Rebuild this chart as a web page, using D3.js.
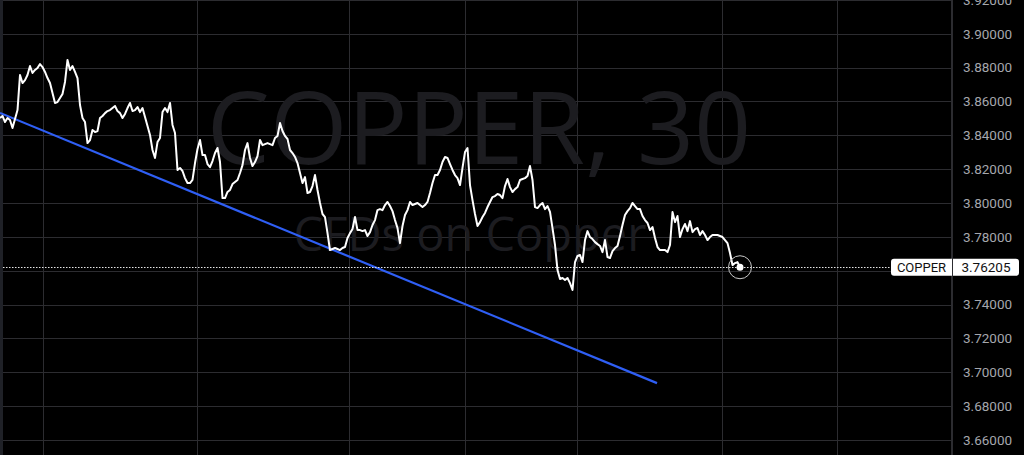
<!DOCTYPE html>
<html><head><meta charset="utf-8">
<script src="https://cdn.jsdelivr.net/npm/d3@7"></script>
<style>
html,body{margin:0;padding:0;background:#000;}
svg{display:block;}
</style></head>
<body>
<svg id="chart" width="1024" height="455"></svg>
<script>
// ---- data ----
const symbol = "COPPER";
const interval = "30";
const subtitle = "CFDs on Copper";
const lastPrice = 3.76205;
// close prices, one per bar
const prices = [
3.8502,3.8514,3.8478,3.8502,3.8490,3.8443,3.8496,3.8549,3.8756,3.8709,
3.8726,3.8756,3.8809,3.8768,3.8786,3.8797,3.8821,3.8803,3.8774,3.8738,
3.8709,3.8650,3.8591,3.8596,3.8620,3.8644,3.8715,3.8845,3.8786,3.8809,
3.8774,3.8738,3.8579,3.8502,3.8478,3.8354,3.8372,3.8431,3.8419,3.8425,
3.8502,3.8514,3.8531,3.8543,3.8549,3.8561,3.8573,3.8543,3.8531,3.8502,
3.8526,3.8561,3.8591,3.8543,3.8549,3.8567,3.8537,3.8561,3.8508,3.8455,
3.8402,3.8313,3.8266,3.8360,3.8384,3.8537,3.8561,3.8537,3.8591,3.8461,
3.8413,3.8195,3.8207,3.8189,3.8147,3.8118,3.8118,3.8136,3.8236,3.8319,
3.8372,3.8283,3.8283,3.8230,3.8212,3.8248,3.8295,3.8325,3.8242,3.8029,
3.8029,3.8065,3.8077,3.8112,3.8124,3.8136,3.8177,3.8224,3.8313,3.8354,
3.8266,3.8218,3.8242,3.8277,3.8372,3.8342,3.8348,3.8354,3.8348,3.8342,
3.8384,3.8396,3.8472,3.8425,3.8396,3.8378,3.8313,3.8295,3.8272,3.8236,
3.8177,3.8118,3.8153,3.8059,3.8065,3.8100,3.8165,3.8077,3.8000,3.7935,
3.7917,3.7822,3.7722,3.7728,3.7734,3.7728,3.7722,3.7734,3.7740,3.7793,
3.7822,3.7846,3.7917,3.7840,3.7840,3.7834,3.7840,3.7805,3.7828,3.7870,
3.7899,3.7958,3.7964,3.7958,3.7988,3.8006,3.7982,3.7952,3.7899,3.7852,
3.7763,3.7864,3.7929,3.7958,3.8006,3.7988,3.7994,3.8000,3.7988,3.7976,
3.7988,3.8006,3.8059,3.8118,3.8165,3.8165,3.8195,3.8242,3.8272,3.8266,
3.8230,3.8195,3.8165,3.8147,3.8106,3.8207,3.8301,3.8325,3.8106,3.8017,
3.7935,3.7864,3.7887,3.7917,3.7941,3.7976,3.8006,3.8035,3.8041,3.8053,
3.8047,3.8029,3.8100,3.8142,3.8094,3.8065,3.8082,3.8094,3.8136,3.8142,
3.8147,3.8159,3.8218,3.8136,3.7976,3.7970,3.7988,3.8000,3.7964,3.7982,
3.7947,3.7852,3.7752,3.7604,3.7551,3.7557,3.7545,3.7557,3.7527,3.7486,
3.7651,3.7687,3.7693,3.7651,3.7781,3.7834,3.7799,3.7787,3.7769,3.7757,
3.7746,3.7710,3.7781,3.7681,3.7675,3.7716,3.7734,3.7746,3.7805,3.7870,
3.7929,3.7952,3.7970,3.8000,3.7982,3.7964,3.7964,3.7923,3.7899,3.7882,
3.7840,3.7858,3.7793,3.7740,3.7722,3.7722,3.7722,3.7710,3.7752,3.7947,
3.7887,3.7923,3.7799,3.7846,3.7876,3.7834,3.7893,3.7828,3.7846,3.7852,
3.7811,3.7834,3.7811,3.7781,3.7799,3.7811,3.7811,3.7811,3.7805,3.7799,
3.7781,3.7763,3.7704,3.7633,3.7645,3.7651,3.76205
];
// trend line: [bar, price]
const trendBars = [0, 262.8];
const trendPrices = [3.8532, 3.6936];
// vertical grid (session boundaries, in bars)
const gridBars = [17.2, 78.8, 139.6, 186, 230.8, 288.8, 334.8, 380.4];
// price axis ticks
const priceTicks = [3.66,3.68,3.70,3.72,3.74,3.76,3.78,3.80,3.82,3.84,3.86,3.88,3.90,3.92];

// ---- layout ----
const W = 1024, H = 455;
const plotRight = 953;
const svg = d3.select("#chart");

const x = d3.scaleLinear().domain([0, 381.2]).range([0, plotRight]);
const y = d3.scaleLinear().domain([3.66, 3.92]).range([440.0, -0.15]);

svg.append("rect").attr("width", W).attr("height", H).attr("fill", "#000");

// left strip
svg.append("rect").attr("x", 0).attr("y", 0).attr("width", 3).attr("height", H).attr("fill", "#1f2127");

// grid
const grid = svg.append("g");
grid.selectAll("line.h").data(priceTicks).join("line")
  .attr("x1", 3).attr("x2", plotRight)
  .attr("y1", d => Math.round(y(d)) + 0.5).attr("y2", d => Math.round(y(d)) + 0.5)
  .attr("stroke", "#2c2c30").attr("stroke-width", 1);
grid.selectAll("line.v").data(gridBars).join("line")
  .attr("x1", d => Math.round(x(d)) + 0.5).attr("x2", d => Math.round(x(d)) + 0.5)
  .attr("y1", 0).attr("y2", H)
  .attr("stroke", "#2c2c30").attr("stroke-width", 1);

// watermark
svg.append("text").attr("x", 479).attr("y", 164)
  .attr("text-anchor", "middle").attr("font-family", "Open Sans, sans-serif")
  .attr("font-size", 100).attr("fill", "#1c1c20")
  .text(symbol + ", " + interval);
svg.append("text").attr("x", 470).attr("y", 251)
  .attr("text-anchor", "middle").attr("font-family", "Open Sans, sans-serif")
  .attr("font-size", 47).attr("fill", "#1c1c20")
  .text(subtitle);

// trend line
svg.append("line")
  .attr("x1", x(trendBars[0])).attr("y1", y(trendPrices[0]))
  .attr("x2", x(trendBars[1])).attr("y2", y(trendPrices[1]))
  .attr("stroke", "#2f5ff5").attr("stroke-width", 2.2);

// last price dotted line
svg.append("line")
  .attr("x1", 3).attr("x2", 891)
  .attr("y1", Math.round(y(lastPrice)) + 0.5).attr("y2", Math.round(y(lastPrice)) + 0.5)
  .attr("stroke", "#e6e6e6").attr("stroke-width", 1).attr("stroke-dasharray", "1.5,1.5");

// price line
const line = d3.line().x((d, i) => x(i)).y(d => y(d)).curve(d3.curveLinear);
svg.append("path").datum(prices)
  .attr("d", line).attr("fill", "none")
  .attr("stroke", "#ffffff").attr("stroke-width", 2).attr("stroke-linejoin", "round");

// last point marker
const lx = x(prices.length - 1), ly = y(prices[prices.length - 1]);
svg.append("circle").attr("cx", lx).attr("cy", ly).attr("r", 11.5)
  .attr("fill", "none").attr("stroke", "#c8c8c8").attr("stroke-width", 1);
svg.append("circle").attr("cx", lx).attr("cy", ly).attr("r", 3.5).attr("fill", "#fff");

// price axis (3.76 label is covered by the last-price tag)
const labelTicks = priceTicks.filter(d => Math.abs(d - 3.76) > 1e-9);
const axisG = svg.append("g").attr("transform", `translate(${plotRight},0)`);
axisG.append("rect").attr("x", 0).attr("y", 0).attr("width", W - plotRight).attr("height", H).attr("fill", "#000");
const yAxis = d3.axisRight(y).tickValues(labelTicks).tickFormat(d3.format(".5f")).tickSize(0).tickPadding(10);
axisG.call(yAxis);
axisG.select(".domain").remove();
axisG.selectAll("text")
  .attr("fill", "#a5a7ad").attr("font-family", "Roboto, sans-serif").attr("font-size", 13.5);

// last price label
const ly0 = y(lastPrice);
svg.append("rect").attr("x", 891).attr("y", ly0 - 8.5).attr("width", 128).attr("height", 17)
  .attr("rx", 3).attr("fill", "#ffffff");
svg.append("text").attr("x", 921.5).attr("y", ly0 + 4.5).attr("text-anchor", "middle")
  .attr("font-family", "Roboto, sans-serif").attr("font-size", 13).attr("fill", "#111")
  .text(symbol);
svg.append("text").attr("x", 986).attr("y", ly0 + 4.5).attr("text-anchor", "middle")
  .attr("font-family", "Roboto, sans-serif").attr("font-size", 13.5).attr("fill", "#111")
  .text(d3.format(".5f")(lastPrice));

// axis separator
svg.append("line").attr("x1", plotRight - 0.5).attr("x2", plotRight - 0.5).attr("y1", 0).attr("y2", H)
  .attr("stroke", "#2c2c30").attr("stroke-width", 1);
</script>
</body></html>
